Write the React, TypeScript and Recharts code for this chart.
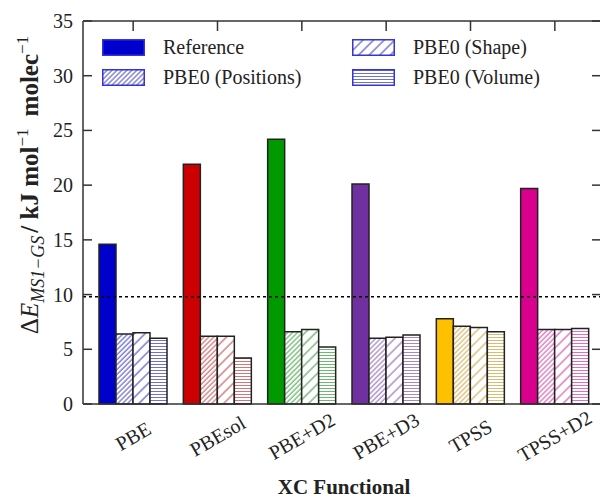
import { Bar, BarChart, Cell, Legend, ReferenceLine, XAxis, YAxis } from 'recharts';

// ΔE(MS1-GS) per XC functional: reference value and the three PBE0 corrections.
const functionals = ['PBE', 'PBEsol', 'PBE+D2', 'PBE+D3', 'TPSS', 'TPSS+D2'];
const reference = [14.6, 21.9, 24.2, 20.1, 7.8, 19.7];
const positions = [6.4, 6.2, 6.6, 6.0, 7.1, 6.8];
const shape = [6.5, 6.2, 6.8, 6.1, 7.0, 6.8];
const volume = [6.0, 4.2, 5.2, 6.3, 6.6, 6.9];
const yTicks = [0, 5, 10, 15, 20, 25, 30, 35];
const experiment = 9.8;

const solid = ['#0000cc', '#cc0000', '#009900', '#7030a0', '#ffc000', '#d9008d'];
const hatch = ['#7070d0', '#d07878', '#70b870', '#a58ac4', '#dcbb70', '#e070bc'];

const SERIES = [
  { key: 'reference', name: 'Reference', fill: (i: number) => solid[i] },
  { key: 'positions', name: 'PBE0 (Positions)', fill: (i: number) => `url(#pos-${i})` },
  { key: 'shape', name: 'PBE0 (Shape)', fill: (i: number) => `url(#shape-${i})` },
  { key: 'volume', name: 'PBE0 (Volume)', fill: (i: number) => `url(#vol-${i})` },
];

const data = functionals.map((f, i) => ({
  name: f,
  reference: reference[i],
  positions: positions[i],
  shape: shape[i],
  volume: volume[i],
}));

const FONT = '"Liberation Serif", "Times New Roman", serif';
const W = 604;
const H = 499;
const L = 83; // plot left
const R = 601; // plot right (just past the crop, like the original)
const T = 21;
const AXIS = '#333';

function Patterns() {
  return (
    <svg width={0} height={0} style={{ position: 'absolute' }}>
      <defs>
        {hatch.map((c, i) => (
          <g key={i}>
            <pattern id={`pos-${i}`} width={3.5} height={3.5} patternUnits="userSpaceOnUse" patternTransform="rotate(45)">
              <rect width={3.5} height={3.5} fill="#fff" />
              <line x1={1} y1={0} x2={1} y2={3.5} stroke={c} strokeWidth={1.3} />
            </pattern>
            <pattern id={`shape-${i}`} width={7.5} height={7.5} patternUnits="userSpaceOnUse" patternTransform="rotate(45)">
              <rect width={7.5} height={7.5} fill="#fff" />
              <line x1={1} y1={0} x2={1} y2={7.5} stroke={c} strokeWidth={1.4} />
            </pattern>
            <pattern id={`vol-${i}`} width={4} height={3} patternUnits="userSpaceOnUse">
              <rect width={4} height={3} fill="#fff" />
              <line x1={0} y1={1.5} x2={4} y2={1.5} stroke={c} strokeWidth={1} />
            </pattern>
          </g>
        ))}
      </defs>
    </svg>
  );
}

function YTick({ y, payload }: any) {
  return (
    <g>
      <line x1={L} x2={L + 9} y1={y} y2={y} stroke={AXIS} strokeWidth={1.5} />
      <line x1={R - 9} x2={R} y1={y} y2={y} stroke={AXIS} strokeWidth={1.5} />
      <text x={L - 10} y={y} dy={7} textAnchor="end" fontSize={20} fontFamily={FONT} fill="#222">
        {payload.value}
      </text>
    </g>
  );
}

function XTick({ x, payload }: any) {
  const cy = 436;
  return (
    <g>
      <line x1={x} x2={x} y1={T} y2={T + 10} stroke={AXIS} strokeWidth={1.5} />
      <text
        x={x}
        y={cy}
        textAnchor="middle"
        dominantBaseline="central"
        transform={`rotate(-30, ${x}, ${cy})`}
        fontSize={20}
        fontFamily={FONT}
        fill="#222"
      >
        {payload.value}
      </text>
    </g>
  );
}

function YTitle() {
  const x = 38;
  const y = 185;
  return (
    <text x={x} y={y} textAnchor="middle" transform={`rotate(-90, ${x}, ${y})`} fontSize={25} fontFamily={FONT} fill="#222">
      <tspan>Δ</tspan>
      <tspan fontStyle="italic">E</tspan>
      <tspan fontStyle="italic" fontSize={18} dy={6}>MS1−GS</tspan>
      <tspan dy={-6} dx={3} fontWeight="bold">/ kJ mol</tspan>
      <tspan fontSize={17} dy={-10}>−1</tspan>
      <tspan dy={10} dx={12} fontWeight="bold">molec</tspan>
      <tspan fontSize={17} dy={-10}>−1</tspan>
    </text>
  );
}

function XTitle() {
  return (
    <text x={344} y={494} textAnchor="middle" fontSize={21} fontWeight="bold" fontFamily={FONT} fill="#222">
      XC Functional
    </text>
  );
}

function LegendBox() {
  return (
    <div
      style={{
        display: 'grid',
        gridTemplateRows: '30px 30px',
        gridTemplateColumns: '250px 220px',
        gridAutoFlow: 'column',
        fontFamily: FONT,
        fontSize: 20,
        color: '#222',
      }}
    >
      {SERIES.map((s) => (
        <div key={s.key} style={{ display: 'flex', alignItems: 'center', height: 17 }}>
          <svg width={43} height={17} style={{ display: 'block' }}>
            <rect x={0.75} y={0.75} width={41.5} height={15.5} fill={s.fill(0)} stroke="#3535d5" strokeWidth={1.5} />
          </svg>
          <span style={{ marginLeft: 18, lineHeight: '17px', whiteSpace: 'nowrap' }}>{s.name}</span>
        </div>
      ))}
    </div>
  );
}

export default function App() {
  return (
    <div style={{ position: 'absolute', left: 0, top: 0, width: 600, height: H, overflow: 'hidden', background: '#fff' }}>
      <Patterns />
      <BarChart
        width={W}
        height={H}
        data={data}
        margin={{ top: T, right: W - R, bottom: 55, left: L - 60 }}
        barCategoryGap={8}
        barGap={0}
      >
        <XAxis
          dataKey="name"
          height={40}
          padding={{ left: 8, right: 4 }}
          axisLine={{ stroke: AXIS, strokeWidth: 1.5 }}
          tickLine={false}
          tick={<XTick />}
          interval={0}
          label={<XTitle />}
        />
        <YAxis
          width={60}
          domain={[0, 35]}
          ticks={yTicks}
          axisLine={{ stroke: AXIS, strokeWidth: 1.5 }}
          tickLine={false}
          tick={<YTick />}
          label={<YTitle />}
        />
        <ReferenceLine y={35} stroke={AXIS} strokeWidth={1.5} />
        <ReferenceLine y={experiment} stroke="#000" strokeWidth={1.3} strokeDasharray="3 3" />
        {SERIES.map((s) => (
          <Bar key={s.key} dataKey={s.key} name={s.name} stroke="#222" strokeWidth={1.5} isAnimationActive={false}>
            {data.map((_, i) => (
              <Cell key={i} fill={s.fill(i)} />
            ))}
          </Bar>
        ))}
        <Legend
          layout="vertical"
          align="center"
          verticalAlign="middle"
          content={<LegendBox />}
          wrapperStyle={{ position: 'absolute', left: 102, top: 39, width: 480, height: 47 }}
        />
      </BarChart>
    </div>
  );
}
